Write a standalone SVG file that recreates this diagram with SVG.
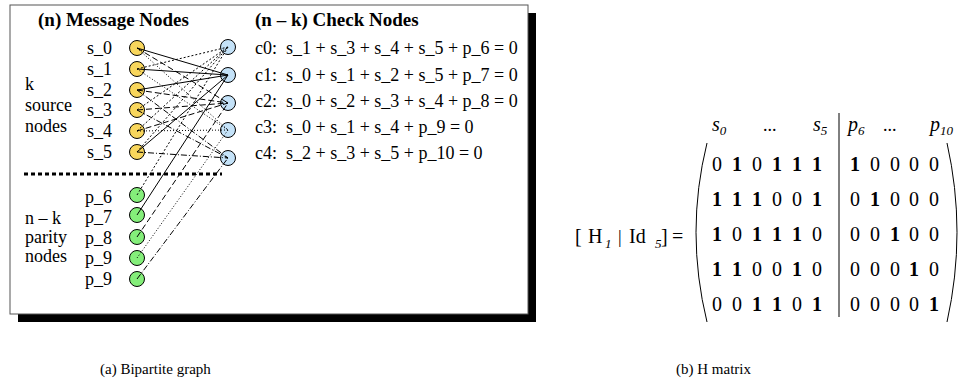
<svg xmlns="http://www.w3.org/2000/svg" width="958" height="391" viewBox="0 0 958 391" font-family="'Liberation Serif', 'DejaVu Serif', serif">
<style>
  text { font-family: 'Liberation Serif', 'DejaVu Serif', 'Times New Roman', serif; fill: #000; }
  .lbl { font-size: 18px; }
  .ttl { font-size: 19px; font-weight: bold; }
  .eq { font-size: 18px; }
  .src { fill: #F8D65C; stroke: #000; stroke-width: 1; }
  .chk { fill: #C4E2F8; stroke: #000; stroke-width: 1; }
  .par { fill: #84EE7A; stroke: #000; stroke-width: 1; }
  .e { stroke: #000; stroke-width: 1; fill: none; }
  .e0 { stroke-dasharray: 2 2; }
  .e2 { stroke-dasharray: 6 3; }
  .e3 { stroke-dasharray: 1 2; }
  .e4 { stroke-dasharray: 6 2 1 2; }
  .m { font-size: 20px; text-anchor: middle; }
  .b { font-weight: bold; }
  .hd { font-size: 20px; font-style: italic; }
  .sub { font-size: 13px; font-style: italic; }
  .cap { font-size: 15px; }
</style>

<!-- frame with shadow -->
<rect x="18" y="13" width="518" height="309" fill="#000"/>
<rect x="10" y="5" width="518" height="309" fill="#fff" stroke="#555" stroke-width="1"/>

<text class="ttl" x="38" y="26">(n) Message Nodes</text>
<text class="ttl" x="255" y="26">(n – k) Check Nodes</text>

<text class="lbl" x="25" y="90">k</text>
<text class="lbl" x="25" y="111">source</text>
<text class="lbl" x="25" y="132">nodes</text>

<text class="lbl" x="25" y="224">n – k</text>
<text class="lbl" x="25" y="243">parity</text>
<text class="lbl" x="25" y="262">nodes</text>

<line x1="24" y1="174" x2="222" y2="174" stroke="#000" stroke-width="3" stroke-dasharray="4 3"/>

<!-- message nodes -->
<g id="s_0"><text class="lbl" x="112" y="54" text-anchor="end">s_0</text><circle class="src" cx="137" cy="48" r="7.5"/></g>
<g id="s_1"><text class="lbl" x="112" y="75" text-anchor="end">s_1</text><circle class="src" cx="137" cy="69" r="7.5"/></g>
<g id="s_2"><text class="lbl" x="112" y="96" text-anchor="end">s_2</text><circle class="src" cx="137" cy="90" r="7.5"/></g>
<g id="s_3"><text class="lbl" x="112" y="116" text-anchor="end">s_3</text><circle class="src" cx="137" cy="110" r="7.5"/></g>
<g id="s_4"><text class="lbl" x="112" y="137" text-anchor="end">s_4</text><circle class="src" cx="137" cy="131" r="7.5"/></g>
<g id="s_5"><text class="lbl" x="112" y="158" text-anchor="end">s_5</text><circle class="src" cx="137" cy="152" r="7.5"/></g>

<g id="p_6"><text class="lbl" x="112" y="203" text-anchor="end">p_6</text><circle class="par" cx="137" cy="195" r="7.5"/></g>
<g id="p_7"><text class="lbl" x="112" y="223" text-anchor="end">p_7</text><circle class="par" cx="137" cy="215" r="7.5"/></g>
<g id="p_8"><text class="lbl" x="112" y="244" text-anchor="end">p_8</text><circle class="par" cx="137" cy="237" r="7.5"/></g>
<g id="p_9"><text class="lbl" x="112" y="264" text-anchor="end">p_9</text><circle class="par" cx="137" cy="258" r="7.5"/></g>
<g id="p_10"><text class="lbl" x="112" y="285" text-anchor="end">p_9</text><circle class="par" cx="137" cy="279" r="7.5"/></g>

<!-- check nodes -->
<g id="c0"><circle class="chk" cx="228" cy="47" r="7.5"/><text class="eq" x="255" y="54" xml:space="preserve">c0:  s_1 + s_3 + s_4 + s_5 + p_6 = 0</text></g>
<g id="c1"><circle class="chk" cx="228" cy="75" r="7.5"/><text class="eq" x="255" y="81" xml:space="preserve">c1:  s_0 + s_1 + s_2 + s_5 + p_7 = 0</text></g>
<g id="c2"><circle class="chk" cx="228" cy="103" r="7.5"/><text class="eq" x="255" y="107" xml:space="preserve">c2:  s_0 + s_2 + s_3 + s_4 + p_8 = 0</text></g>
<g id="c3"><circle class="chk" cx="228" cy="130" r="7.5"/><text class="eq" x="255" y="133" xml:space="preserve">c3:  s_0 + s_1 + s_4 + p_9 = 0</text></g>
<g id="c4"><circle class="chk" cx="228" cy="158" r="7.5"/><text class="eq" x="255" y="159" xml:space="preserve">c4:  s_2 + s_3 + s_5 + p_10 = 0</text></g>

<!-- connectors -->
<g id="connectors">
  <line class="e e0" x1="137" y1="69" x2="228" y2="47"/>
  <line class="e e0" x1="137" y1="110" x2="228" y2="47"/>
  <line class="e e0" x1="137" y1="131" x2="228" y2="47"/>
  <line class="e e0" x1="137" y1="152" x2="228" y2="47"/>
  <line class="e e0" x1="137" y1="195" x2="228" y2="47"/>
  <line class="e" x1="137" y1="48" x2="228" y2="75"/>
  <line class="e" x1="137" y1="69" x2="228" y2="75"/>
  <line class="e" x1="137" y1="90" x2="228" y2="75"/>
  <line class="e" x1="137" y1="152" x2="228" y2="75"/>
  <line class="e" x1="137" y1="215" x2="228" y2="75"/>
  <line class="e e2" x1="137" y1="48" x2="228" y2="103"/>
  <line class="e e2" x1="137" y1="90" x2="228" y2="103"/>
  <line class="e e2" x1="137" y1="110" x2="228" y2="103"/>
  <line class="e e2" x1="137" y1="131" x2="228" y2="103"/>
  <line class="e e2" x1="137" y1="237" x2="228" y2="103"/>
  <line class="e e3" x1="137" y1="48" x2="228" y2="130"/>
  <line class="e e3" x1="137" y1="69" x2="228" y2="130"/>
  <line class="e e3" x1="137" y1="131" x2="228" y2="130"/>
  <line class="e e3" x1="137" y1="258" x2="228" y2="130"/>
  <line class="e e4" x1="137" y1="90" x2="228" y2="158"/>
  <line class="e e4" x1="137" y1="110" x2="228" y2="158"/>
  <line class="e e4" x1="137" y1="152" x2="228" y2="158"/>
  <line class="e e4" x1="137" y1="279" x2="228" y2="158"/>
</g>

<!-- matrix -->
<g id="matrix">
  <text x="575" y="243" style="font-size:20px">[</text>
  <text x="588" y="243" style="font-size:20px">H</text>
  <text class="sub" x="605" y="248">1</text>
  <text x="618" y="243" style="font-size:18px">|</text>
  <text x="629" y="243" style="font-size:20px">Id</text>
  <text class="sub" x="655" y="248">5</text>
  <text x="661" y="243" style="font-size:20px">]</text>
  <text x="672" y="243" style="font-size:20px">=</text>

  <text class="hd" x="712" y="131">s<tspan class="sub" dy="4">0</tspan></text>
  <text x="763" y="131" style="font-size:18px">...</text>
  <text class="hd" x="813" y="131">s<tspan class="sub" dy="4">5</tspan></text>
  <text class="hd" x="848" y="131">p<tspan class="sub" dy="4">6</tspan></text>
  <text x="883" y="131" style="font-size:18px">...</text>
  <text class="hd" x="930" y="131">p<tspan class="sub" dy="4">10</tspan></text>

  <line x1="839" y1="113" x2="839" y2="317" stroke="#000" stroke-width="1"/>
  <path d="M707,143 Q685,232 707,322" fill="none" stroke="#000" stroke-width="1"/>
  <path d="M947,143 Q967,232 947,322" fill="none" stroke="#000" stroke-width="1"/>

  <text class="m" x="717" y="171">0</text><text class="m b" x="737" y="171">1</text><text class="m" x="757" y="171">0</text><text class="m b" x="777" y="171">1</text><text class="m b" x="797" y="171">1</text><text class="m b" x="817" y="171">1</text>
  <text class="m b" x="855" y="171">1</text><text class="m" x="875" y="171">0</text><text class="m" x="895" y="171">0</text><text class="m" x="914" y="171">0</text><text class="m" x="934" y="171">0</text>
  <text class="m b" x="717" y="206">1</text><text class="m b" x="737" y="206">1</text><text class="m b" x="757" y="206">1</text><text class="m" x="777" y="206">0</text><text class="m" x="797" y="206">0</text><text class="m b" x="817" y="206">1</text>
  <text class="m" x="855" y="206">0</text><text class="m b" x="875" y="206">1</text><text class="m" x="895" y="206">0</text><text class="m" x="914" y="206">0</text><text class="m" x="934" y="206">0</text>
  <text class="m b" x="717" y="241">1</text><text class="m" x="737" y="241">0</text><text class="m b" x="757" y="241">1</text><text class="m b" x="777" y="241">1</text><text class="m b" x="797" y="241">1</text><text class="m" x="817" y="241">0</text>
  <text class="m" x="855" y="241">0</text><text class="m" x="875" y="241">0</text><text class="m b" x="895" y="241">1</text><text class="m" x="914" y="241">0</text><text class="m" x="934" y="241">0</text>
  <text class="m b" x="717" y="276">1</text><text class="m b" x="737" y="276">1</text><text class="m" x="757" y="276">0</text><text class="m" x="777" y="276">0</text><text class="m b" x="797" y="276">1</text><text class="m" x="817" y="276">0</text>
  <text class="m" x="855" y="276">0</text><text class="m" x="875" y="276">0</text><text class="m" x="895" y="276">0</text><text class="m b" x="914" y="276">1</text><text class="m" x="934" y="276">0</text>
  <text class="m" x="717" y="311">0</text><text class="m" x="737" y="311">0</text><text class="m b" x="757" y="311">1</text><text class="m b" x="777" y="311">1</text><text class="m" x="797" y="311">0</text><text class="m b" x="817" y="311">1</text>
  <text class="m" x="855" y="311">0</text><text class="m" x="875" y="311">0</text><text class="m" x="895" y="311">0</text><text class="m" x="914" y="311">0</text><text class="m b" x="934" y="311">1</text>
</g>

<text class="cap" x="100" y="374">(a) Bipartite graph</text>
<text class="cap" x="676" y="374">(b) H matrix</text>
</svg>
